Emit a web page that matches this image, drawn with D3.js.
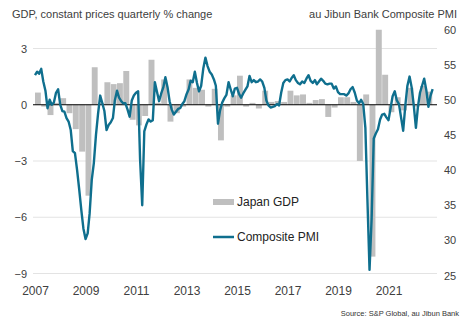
<!DOCTYPE html>
<html>
<head>
<meta charset="utf-8">
<script src="https://cdn.jsdelivr.net/npm/d3@7"></script>
<style>
  html, body { margin: 0; padding: 0; background: #fff; }
  svg { display: block; font-family: "Liberation Sans", Arial, sans-serif; }
</style>
</head>
<body>
<svg id="chart" width="467" height="322"></svg>
<script>
// ---- Data ----
const gdpStart = [2007, 0]; // first quarter: 2007 Q1
const gdpValues = [
  0.65, -0.1, -0.55, 0.1,
  0.35, -0.45, -1.3, -2.5,
  -4.85, 2.0, 0.1, 1.2,
  1.1, 1.15, 1.8, -0.8,
  -1.1, -0.6, 2.4, 0.1,
  1.35, -0.9, -0.45, -0.1,
  1.35, 0.9, 0.8, -0.1,
  0.85, -1.9, -0.1, 0.5,
  1.55, -0.1, 0.1, -0.2,
  0.75, 0.15, 0.2, 0.15,
  0.75, 0.5, 0.55, 0.1,
  0.25, 0.3, -0.65, -0.15,
  0.4, 0.4, 0.15, -3.0,
  0.55, -8.1, 4.0, 1.6,
  -0.4, 0.4, -0.3, 0.9,
  -0.1, 1.0, 0.7
];
const pmiStart = [2007, 0]; // first month: Jan 2007
const pmiValues = [
  53.5, 54.0, 53.7, 54.4, 52.6, 51.3, 48.8, 50.0, 49.3, 49.6, 51.0, 51.5,
  49.3, 48.4, 48.3, 47.4, 46.9, 45.7, 42.7, 42.4, 40.0, 37.3, 34.3, 31.7,
  30.2, 31.0, 33.8, 38.6, 41.0, 45.0, 48.0, 50.6, 49.5, 48.4, 45.7, 46.4,
  46.8, 47.4, 49.9, 51.3, 50.3, 49.8, 49.5, 49.5, 48.6, 47.6, 49.9, 50.6,
  51.0, 51.2, 41.5, 35.0, 45.5, 46.5, 47.2, 46.9, 47.1, 52.5, 51.1, 49.8,
  50.9, 51.8, 53.2, 51.8, 49.8, 48.6, 47.9, 48.3, 48.7, 48.8, 49.4, 49.8,
  50.8, 51.5, 52.7, 52.5, 54.0, 52.4, 51.2, 52.0, 54.5, 56.0, 54.8, 54.0,
  53.6, 52.9, 52.0, 46.6, 48.5, 49.6, 50.2, 50.7, 52.5, 51.5, 50.5, 51.6,
  51.7, 50.8, 50.3, 50.9, 51.4, 51.9, 53.4, 52.5, 52.8, 52.5, 52.6, 52.9,
  52.6, 51.7, 49.9, 49.2, 48.9, 49.0, 49.1, 49.4, 49.2, 51.0, 52.4, 52.8,
  52.9, 52.6, 53.1, 53.5, 52.8, 52.4, 52.2, 52.6, 52.4, 53.0, 53.5, 52.7,
  52.4, 52.8, 52.2, 52.6, 53.0, 52.7, 52.3, 52.2, 52.3, 52.3, 51.6, 51.9,
  51.1, 50.8, 50.8, 50.8, 50.6, 50.9, 51.5, 51.8, 51.0, 49.9, 49.5, 50.0,
  49.4, 46.0, 36.0, 25.8, 33.0, 44.5, 45.2, 45.8, 47.2, 47.9, 48.0, 47.5,
  47.1, 48.9, 50.5, 51.2, 49.9, 49.4, 47.5, 45.6, 49.2, 52.0, 53.3, 51.8,
  49.2, 46.0, 48.9, 51.0, 52.0, 53.0, 51.4, 49.0, 50.6, 51.5
];
const yearTicks = [2007, 2009, 2011, 2013, 2015, 2017, 2019, 2021];
const leftTicks = [3, 0, -3, -6, -9];
const rightTicks = [60, 55, 50, 45, 40, 35, 30, 25];
const leftTitle = "GDP, constant prices quarterly % change";
const rightTitle = "au Jibun Bank Composite PMI";
const legendLabels = ["Japan GDP", "Composite PMI"];
const sourceText = "Source: S&P Global, au Jibun Bank";

// ---- Build records ----
const gdp = gdpValues.map((v, i) => ({
  start: new Date(gdpStart[0], gdpStart[1] + i * 3, 1),
  end: new Date(gdpStart[0], gdpStart[1] + i * 3 + 3, 1),
  value: v
}));
const pmi = pmiValues.map((v, i) => ({
  date: new Date(pmiStart[0], pmiStart[1] + i, 1),
  value: v
}));

// ---- Layout ----
const svg = d3.select("#chart");
const plotLeft = 33, plotRight = 437;
const x = d3.scaleTime()
  .domain([new Date(2007, 0, 1), new Date(2023, 0, 1)])
  .range([35, 439]);
const yL = d3.scaleLinear().domain([-9, 3]).range([273.5, 48.5]);
const yR = d3.scaleLinear().domain([25, 60]).range([275.5, 29.5]);

const textColor = "#404040";
const barColor = "#bfbfbf";
const lineColor = "#0f6f8e";

// gridlines
svg.append("g").selectAll("line")
  .data(leftTicks.filter(d => d !== 0))
  .join("line")
  .attr("x1", plotLeft).attr("x2", plotRight)
  .attr("y1", d => yL(d)).attr("y2", d => yL(d))
  .attr("stroke", "#e3e3e3").attr("stroke-width", 1);

// bars
svg.append("g").selectAll("rect")
  .data(gdp)
  .join("rect")
  .attr("x", d => x(d.start))
  .attr("width", d => Math.max(0, x(d.end) - x(d.start) - 0.4))
  .attr("y", d => yL(Math.max(0, d.value)))
  .attr("height", d => Math.abs(yL(d.value) - yL(0)))
  .attr("fill", barColor);

// zero line
svg.append("line")
  .attr("x1", plotLeft).attr("x2", plotRight)
  .attr("y1", yL(0)).attr("y2", yL(0))
  .attr("stroke", "#000").attr("stroke-width", 1.2);

// PMI line
svg.append("path")
  .datum(pmi)
  .attr("fill", "none")
  .attr("stroke", lineColor)
  .attr("stroke-width", 2.4)
  .attr("stroke-linejoin", "round")
  .attr("d", d3.line().x(d => x(d.date)).y(d => yR(d.value)));

// axes
const axL = svg.append("g").attr("transform", "translate(27,0)")
  .call(d3.axisLeft(yL).tickValues(leftTicks).tickSize(0).tickPadding(0).tickFormat(d3.format("d")));
const axR = svg.append("g").attr("transform", "translate(444,0)")
  .call(d3.axisRight(yR).tickValues(rightTicks).tickSize(0).tickPadding(0));
const axB = svg.append("g").attr("transform", "translate(0,283)")
  .call(d3.axisBottom(x).tickValues(yearTicks.map(y => new Date(y, 0, 1))).tickSize(0).tickPadding(3.5)
    .tickFormat(d3.timeFormat("%Y")));
[axL, axR, axB].forEach(a => {
  a.select(".domain").remove();
  a.selectAll("text").attr("fill", textColor).style("font-family", "'Liberation Sans', Arial, sans-serif");
});
axL.selectAll("text").style("font-size", "11px");
axR.selectAll("text").style("font-size", "11px");
axB.selectAll("text").style("font-size", "12px");

// titles
svg.append("text").attr("x", 12).attr("y", 18).attr("font-size", 11)
  .attr("fill", textColor).text(leftTitle);
svg.append("text").attr("x", 457).attr("y", 18).attr("font-size", 11)
  .attr("text-anchor", "end").attr("fill", textColor).text(rightTitle);

// legend
const lg = svg.append("g");
lg.append("rect").attr("x", 213).attr("y", 199).attr("width", 21).attr("height", 6).attr("fill", barColor);
lg.append("text").attr("x", 237).attr("y", 206).attr("font-size", 12).attr("fill", "#222").text(legendLabels[0]);
lg.append("line").attr("x1", 213).attr("x2", 234).attr("y1", 237).attr("y2", 237)
  .attr("stroke", lineColor).attr("stroke-width", 2.5);
lg.append("text").attr("x", 237).attr("y", 241).attr("font-size", 12).attr("fill", "#222").text(legendLabels[1]);

// source
svg.append("text").attr("x", 459).attr("y", 316).attr("font-size", 7.5)
  .attr("text-anchor", "end").attr("fill", "#333").text(sourceText);
</script>
</body>
</html>
